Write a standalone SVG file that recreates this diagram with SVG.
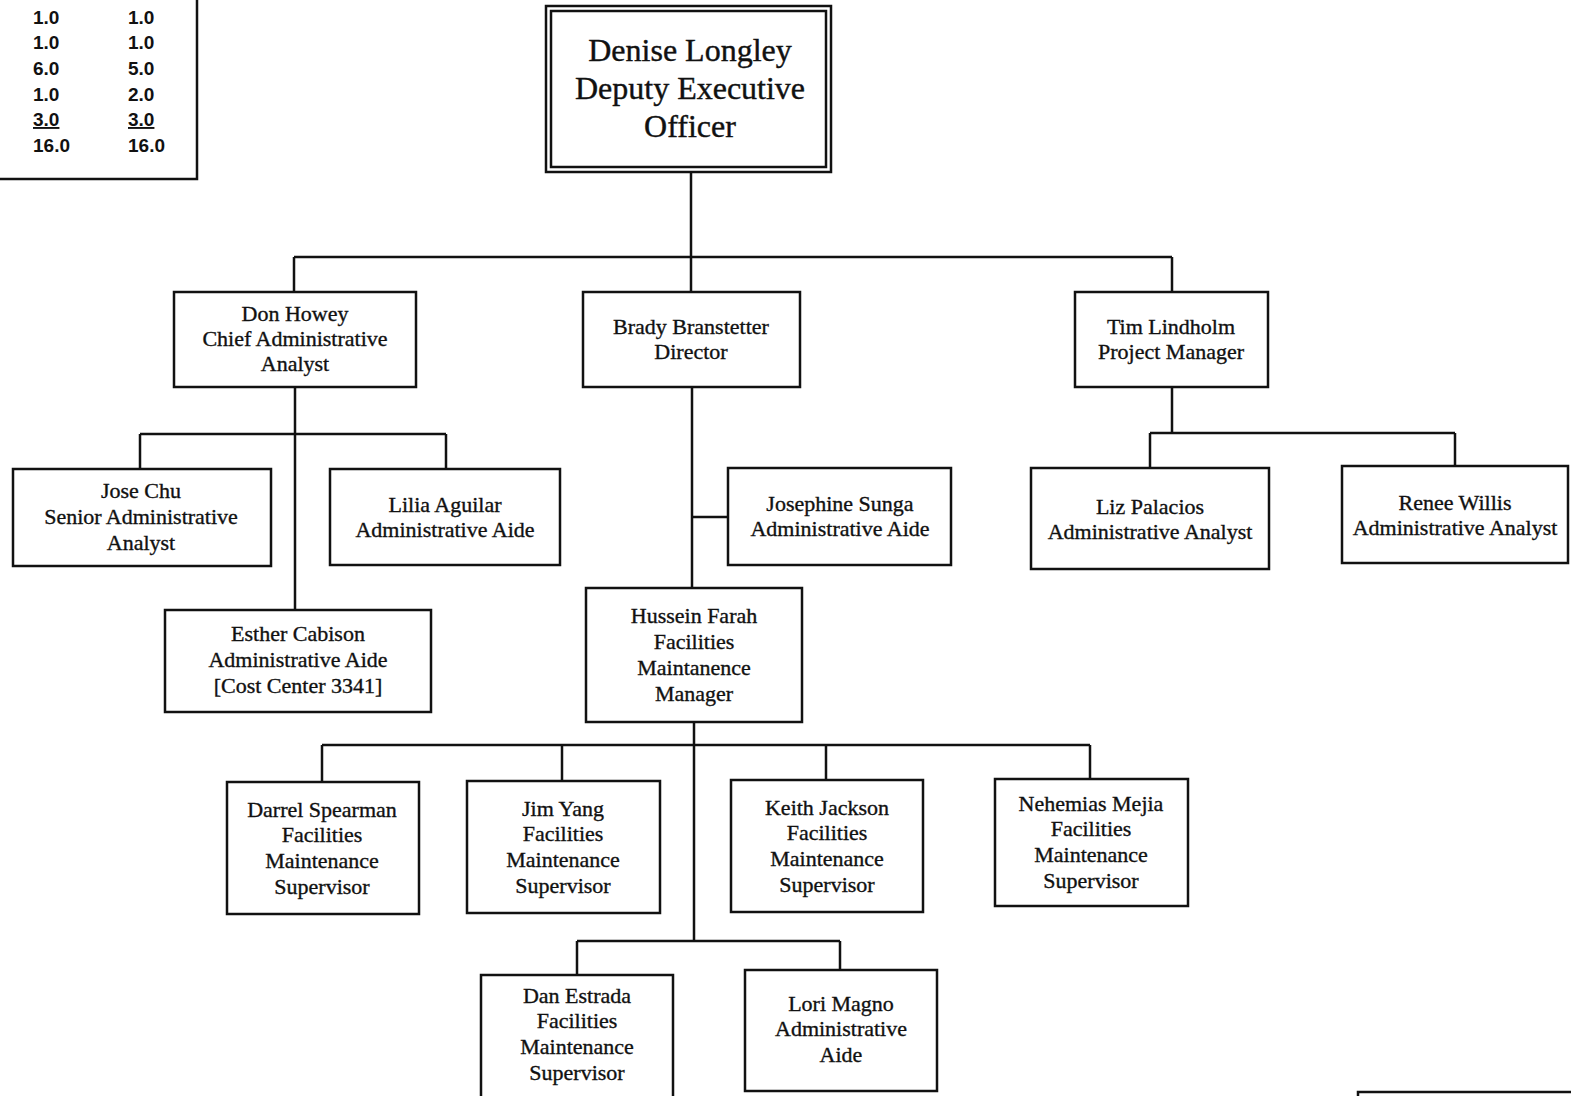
<svg xmlns="http://www.w3.org/2000/svg" width="1571" height="1096" viewBox="0 0 1571 1096">
<style>
.box{fill:#fff;stroke:#111;stroke-width:2.5}
.t{font-family:"Liberation Serif","Times New Roman",serif;font-size:22px;fill:#111;stroke:#111;stroke-width:0.35;text-anchor:middle}
.big{font-family:"Liberation Serif","Times New Roman",serif;font-size:32px;fill:#111;stroke:#111;stroke-width:0.4;text-anchor:middle}
.num{font-family:"Liberation Sans",Arial,sans-serif;font-size:19px;font-weight:bold;fill:#111}
.c{fill:none;stroke:#111;stroke-width:2.5}
</style>
<rect width="1571" height="1096" fill="#fff"/>
<g id="table">
<path class="c" d="M0,179 H197 V0"/>
<text class="num" x="33" y="24">1.0</text><text class="num" x="128" y="24">1.0</text>
<text class="num" x="33" y="49">1.0</text><text class="num" x="128" y="49">1.0</text>
<text class="num" x="33" y="75">6.0</text><text class="num" x="128" y="75">5.0</text>
<text class="num" x="33" y="101">1.0</text><text class="num" x="128" y="101">2.0</text>
<text class="num" x="33" y="126" text-decoration="underline">3.0</text><text class="num" x="128" y="126" text-decoration="underline">3.0</text>
<text class="num" x="33" y="152">16.0</text><text class="num" x="128" y="152">16.0</text>
</g>
<g id="connectors">
<path class="c" d="M691,172 V257 M294,257 H1172 M294,257 V292 M691,257 V292 M1172,257 V292"/>
<path class="c" d="M295,387 V610 M140,434 H446 M140,434 V469 M446,434 V469"/>
<path class="c" d="M692,387 V588 M692,517 H728"/>
<path class="c" d="M1172,387 V433 M1150,433 H1455 M1150,433 V468 M1455,433 V466"/>
<path class="c" d="M694,722 V941 M322,745 H1090 M322,745 V782 M562,745 V781 M826,745 V780 M1090,745 V779"/>
<path class="c" d="M577,941 H840 M577,941 V975 M840,941 V970"/>
</g>
<g id="n-longley">
<rect class="box" x="546" y="6" width="285" height="166"/>
<rect class="box" x="551" y="11" width="275" height="156"/>
<text class="big" x="690" y="61">Denise Longley</text>
<text class="big" x="690" y="99">Deputy Executive</text>
<text class="big" x="690" y="137">Officer</text>
</g>
<g id="n-howey">
<rect class="box" x="174" y="292" width="242" height="95"/>
<text class="t" x="295" y="321">Don Howey</text>
<text class="t" x="295" y="346">Chief Administrative</text>
<text class="t" x="295" y="371">Analyst</text>
</g>
<g id="n-branstetter">
<rect class="box" x="583" y="292" width="217" height="95"/>
<text class="t" x="691" y="334">Brady Branstetter</text>
<text class="t" x="691" y="359">Director</text>
</g>
<g id="n-lindholm">
<rect class="box" x="1075" y="292" width="193" height="95"/>
<text class="t" x="1171" y="334">Tim Lindholm</text>
<text class="t" x="1171" y="359">Project Manager</text>
</g>
<g id="n-chu">
<rect class="box" x="13" y="469" width="258" height="97"/>
<text class="t" x="141" y="498">Jose Chu</text>
<text class="t" x="141" y="524">Senior Administrative</text>
<text class="t" x="141" y="550">Analyst</text>
</g>
<g id="n-aguilar">
<rect class="box" x="330" y="469" width="230" height="96"/>
<text class="t" x="445" y="512">Lilia Aguilar</text>
<text class="t" x="445" y="537">Administrative Aide</text>
</g>
<g id="n-cabison">
<rect class="box" x="165" y="610" width="266" height="102"/>
<text class="t" x="298" y="641">Esther Cabison</text>
<text class="t" x="298" y="667">Administrative Aide</text>
<text class="t" x="298" y="693">[Cost Center 3341]</text>
</g>
<g id="n-sunga">
<rect class="box" x="728" y="468" width="223" height="97"/>
<text class="t" x="840" y="511">Josephine Sunga</text>
<text class="t" x="840" y="536">Administrative Aide</text>
</g>
<g id="n-farah">
<rect class="box" x="586" y="588" width="216" height="134"/>
<text class="t" x="694" y="623">Hussein Farah</text>
<text class="t" x="694" y="649">Facilities</text>
<text class="t" x="694" y="675">Maintanence</text>
<text class="t" x="694" y="701">Manager</text>
</g>
<g id="n-palacios">
<rect class="box" x="1031" y="468" width="238" height="101"/>
<text class="t" x="1150" y="514">Liz Palacios</text>
<text class="t" x="1150" y="539">Administrative Analyst</text>
</g>
<g id="n-willis">
<rect class="box" x="1342" y="466" width="226" height="97"/>
<text class="t" x="1455" y="510">Renee Willis</text>
<text class="t" x="1455" y="535">Administrative Analyst</text>
</g>
<g id="n-spearman">
<rect class="box" x="227" y="782" width="192" height="132"/>
<text class="t" x="322" y="817">Darrel Spearman</text>
<text class="t" x="322" y="842">Facilities</text>
<text class="t" x="322" y="868">Maintenance</text>
<text class="t" x="322" y="894">Supervisor</text>
</g>
<g id="n-yang">
<rect class="box" x="467" y="781" width="193" height="132"/>
<text class="t" x="563" y="816">Jim Yang</text>
<text class="t" x="563" y="841">Facilities</text>
<text class="t" x="563" y="867">Maintenance</text>
<text class="t" x="563" y="893">Supervisor</text>
</g>
<g id="n-jackson">
<rect class="box" x="731" y="780" width="192" height="132"/>
<text class="t" x="827" y="815">Keith Jackson</text>
<text class="t" x="827" y="840">Facilities</text>
<text class="t" x="827" y="866">Maintenance</text>
<text class="t" x="827" y="892">Supervisor</text>
</g>
<g id="n-mejia">
<rect class="box" x="995" y="779" width="193" height="127"/>
<text class="t" x="1091" y="811">Nehemias Mejia</text>
<text class="t" x="1091" y="836">Facilities</text>
<text class="t" x="1091" y="862">Maintenance</text>
<text class="t" x="1091" y="888">Supervisor</text>
</g>
<g id="n-estrada">
<rect class="box" x="481" y="975" width="192" height="130"/>
<text class="t" x="577" y="1003">Dan Estrada</text>
<text class="t" x="577" y="1028">Facilities</text>
<text class="t" x="577" y="1054">Maintenance</text>
<text class="t" x="577" y="1080">Supervisor</text>
</g>
<g id="n-magno">
<rect class="box" x="745" y="970" width="192" height="121"/>
<text class="t" x="841" y="1011">Lori Magno</text>
<text class="t" x="841" y="1036">Administrative</text>
<text class="t" x="841" y="1062">Aide</text>
</g>
<g id="n-partial">
<path class="c" d="M1358,1100 V1092 H1575"/>
</g>
</svg>
